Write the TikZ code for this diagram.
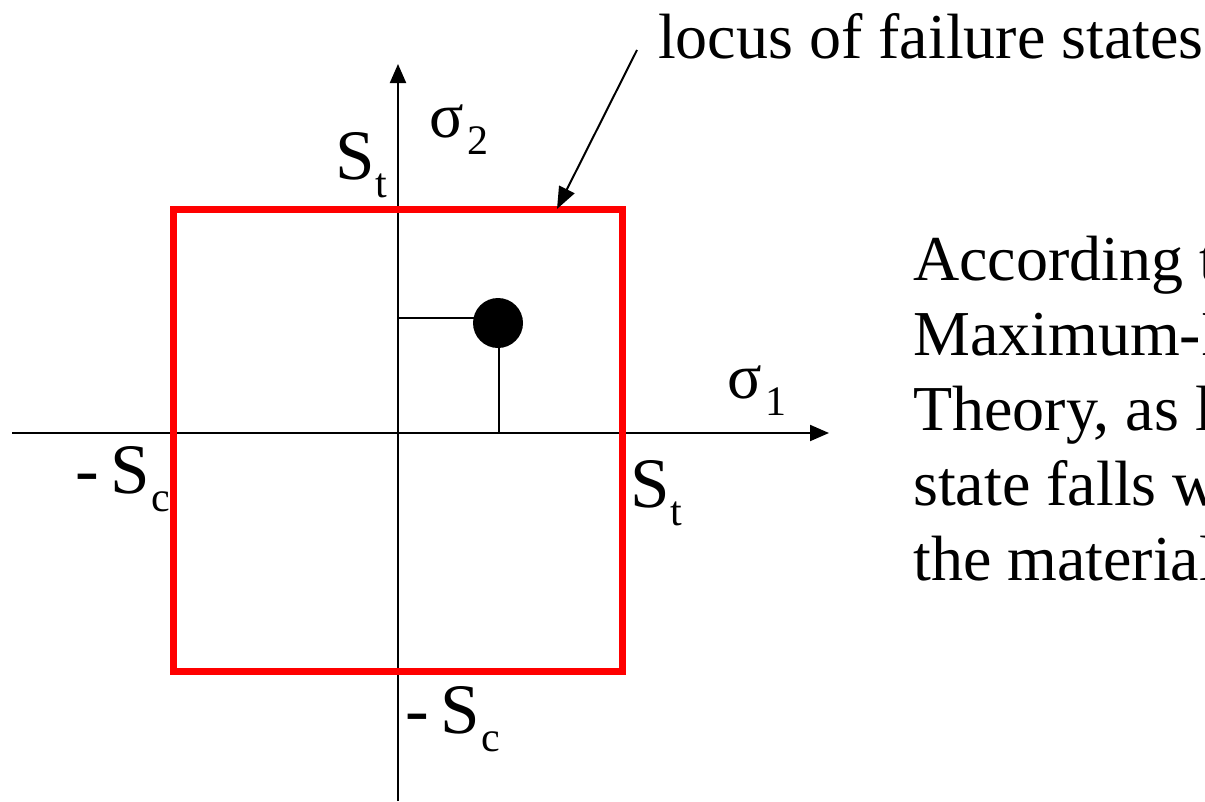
\documentclass[tikz,border=0pt]{standalone}
\usepackage{fontspec}
\setmainfont{Liberation Serif}
\usetikzlibrary{arrows.meta}
\newcommand{\biglab}[2]{{\fontsize{71}{71}\selectfont #1}\hspace{1pt}\raisebox{-18pt}{\fontsize{42}{42}\selectfont #2}}
\newcommand{\siglab}[2]{{\fontsize{64}{64}\selectfont #1}\hspace{4pt}\raisebox{-17pt}{\fontsize{42}{42}\selectfont #2}}
\begin{document}
\begin{tikzpicture}[x=1pt,y=-1pt,
  axis/.style={line width=2pt,-{Triangle[length=19pt,width=16pt]}},
  thin/.style={line width=2pt},
  locus/.style={draw=red,line width=7pt},
  lbl/.style={inner sep=0pt,anchor=base west},
  bigtext/.style={inner sep=0pt,anchor=base west,font=\fontsize{64}{75}\selectfont},
  pointer/.style={line width=2pt,-{Triangle[length=22pt,width=17pt]}}]
\clip (0,0) rectangle (1205,801);
\fill[white] (0,0) rectangle (1205,801);
% axes
\coordinate (xl) at (12,433);
\coordinate (xr) at (829,433);
\coordinate (yb) at (398,801);
\coordinate (yt) at (398,64);
\draw[axis] (xl) -- (xr);
\draw[axis] (yb) -- (yt);
% failure locus
\coordinate (ll) at (173,209);
\coordinate (ur) at (622,671);
\draw[locus] (ll) rectangle (ur);
% stress state
\coordinate (h0) at (399,318);
\coordinate (h1) at (485,318);
\coordinate (v0) at (499,335);
\coordinate (v1) at (499,432);
\draw[thin] (h0) -- (h1);
\draw[thin] (v0) -- (v1);
\node[circle,fill=black,minimum size=50pt,inner sep=0pt] (pt) at (498,323) {};
% labels
\node[lbl] (st1) at (335,179) {\biglab{S}{t}};
\node[lbl] (s2) at (429,137) {\siglab{σ}{2}};
\node[lbl] (s1) at (727,398) {\siglab{σ}{1}};
\node[lbl] (sc1) at (75,493) {\biglab{-\hspace{12pt}S}{c}};
\node[lbl] (st2) at (630,507) {\biglab{S}{t}};
\node[lbl] (sc2) at (405,733) {\biglab{-\hspace{12pt}S}{c}};
% locus label
\node[lbl,font=\fontsize{64}{64}\selectfont] (loc) at (658,58) {locus of failure states};
\coordinate (lt) at (637,50);
\coordinate (lh) at (557,209);
\draw[pointer] (lt) -- (lh);
% explanation
\node[bigtext] (t1) at (913,280) {According t};
\node[bigtext] (t2) at (913,355) {Maximum-N};
\node[bigtext] (t3) at (913,430) {Theory, as l};
\node[bigtext] (t4) at (913,505) {state falls w};
\node[bigtext] (t5) at (913,580) {the material};
\end{tikzpicture}
\end{document}
